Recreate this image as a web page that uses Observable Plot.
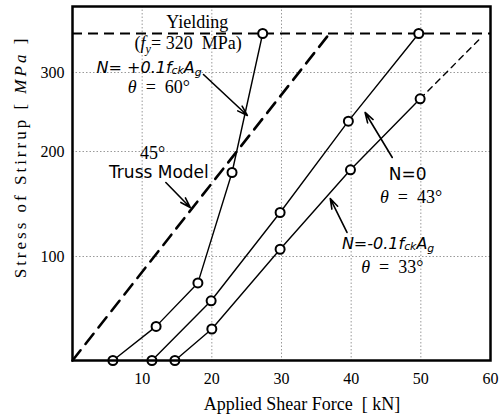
<!DOCTYPE html>
<html><head><meta charset="utf-8">
<script src="https://cdn.jsdelivr.net/npm/d3@7"></script>
<script src="https://cdn.jsdelivr.net/npm/@observablehq/plot@0.6"></script>
<style>body{margin:0;background:#fff}</style>
</head><body><div id="chart"></div>
<script>
// Series: N = +0.1 fck Ag (theta = 60)
const shearPos = [5.8, 12.0, 18.0, 22.9, 27.3];
const stressPos = [0, 32.8, 74.6, 180, 320];
// Series: N = 0 (theta = 43)
const shearZero = [11.4, 19.9, 29.8, 39.6, 49.7];
const stressZero = [0, 57.4, 141.9, 238.4, 320];
// Series: N = -0.1 fck Ag (theta = 33)
const shearNeg = [14.7, 20.0, 29.8, 39.9, 49.9];
const stressNeg = [0, 30.3, 106.9, 182.6, 266.7];
const negExtShear = [49.9, 58.4];
const negExtStress = [266.7, 317];
// 45 degree truss model
const trussShear = [0, 36.9];
const trussStress = [0, 320];
const yieldStress = [320];
// Ticks
const xTicks = [10, 20, 30, 40, 50, 60];
const xGrid = [10, 20, 30, 40, 50];
const yTicks = [100, 200, 300];
// The original figure's stress axis is not uniform: break points and their relative heights
const yBreaks = [0, 100, 200, 300, 320, 334];
const yBreakHeights = [0, 104, 209, 288, 327, 354];
// Annotation arrows (data coords)
const arrowX1 = [18.8, 13.4, 45.9, 39.4];
const arrowY1 = [297.5, 170.5, 194.3, 122.9];
const arrowX2 = [25.1, 16.9, 42.0, 37.0];
const arrowY2 = [245.6, 146.7, 249.4, 155.2];
// Annotation texts
const serifText = ["Yielding", "(fy = 320 MPa)", "45°"];
const serifX = [17.9, 16.6, 11.5];
const serifY = [322.8, 311.8, 193.3];
const sansItText = ["N= +0.1fckAg", "N=-0.1fckAg"];
const sansItX = [11.0, 45.3];
const sansItY = [299.5, 106.7];
const sansText = ["Truss Model", "N=0"];
const sansX = [12.4, 48.1];
const sansY = [175.2, 172.4];
const thetaText = ["θ = 60°", "θ = 43°", "θ = 33°"];
const thetaX = [12.4, 48.6, 45.9];
const thetaY = [273.5, 150.5, 83.7];

const f = d3.scaleLinear().domain(yBreaks).range(yBreakHeights);

const pts = (xs, ys) => xs.map((x, i) => ({x, y: ys[i]}));
const txt = (ts, xs, ys) => ts.map((t, i) => ({t, x: xs[i], y: ys[i]}));
const arrows = arrowX1.map((x1, i) => ({x1, y1: arrowY1[i], x2: arrowX2[i], y2: arrowY2[i]}));
const Y = d => f(d.y);

const SERIF = "'Liberation Serif', 'Times New Roman', serif";
const SANS = "'DejaVu Sans', sans-serif";

const series = [pts(shearPos, stressPos), pts(shearZero, stressZero), pts(shearNeg, stressNeg)];

const plot = Plot.plot({
  width: 504, height: 419,
  marginLeft: 72, marginRight: 14, marginTop: 6, marginBottom: 59,
  style: {fontFamily: SERIF, fontSize: "16px", background: "#fff", color: "#000", overflow: "visible"},
  x: {domain: [0, 60]},
  y: {domain: [0, f(yBreaks[yBreaks.length - 1])]},
  marks: [
    Plot.gridX(xGrid, {stroke: "#9a9a9a", strokeOpacity: 1, strokeDasharray: "1.5,2"}),
    Plot.gridY(yTicks.map(f), {stroke: "#9a9a9a", strokeOpacity: 1, strokeDasharray: "1.5,2"}),
    Plot.axisX({ticks: xTicks, tickSize: 0, tickPadding: 12, label: null, fontSize: 16, tickFormat: d => d}),
    Plot.axisY({ticks: yTicks.map(f), tickSize: 0, tickPadding: 8, label: null, fontSize: 16, tickFormat: d => Math.round(f.invert(d))}),
    Plot.ruleY(yieldStress.map(f), {strokeWidth: 2, strokeDasharray: "10,6"}),
    Plot.line(pts(trussShear, trussStress), {x: "x", y: Y, strokeWidth: 2.6, strokeDasharray: "13,8"}),
    Plot.line(pts(negExtShear, negExtStress), {x: "x", y: Y, strokeWidth: 1.4, strokeDasharray: "6,5"}),
    ...series.map(s => Plot.line(s, {x: "x", y: Y, strokeWidth: 1.4})),
    ...series.map(s => Plot.dot(s, {x: "x", y: Y, r: 4.5, fill: "white", stroke: "black", strokeWidth: 2})),
    Plot.arrow(arrows, {x1: "x1", y1: d => f(d.y1), x2: "x2", y2: d => f(d.y2), strokeWidth: 1.6, headLength: 10, headAngle: 35}),
    Plot.text(txt(serifText, serifX, serifY), {x: "x", y: Y, text: "t", lineAnchor: "bottom", fontSize: 18, fontFamily: SERIF}),
    Plot.text(txt(sansItText, sansItX, sansItY), {x: "x", y: Y, text: "t", lineAnchor: "bottom", fontSize: 16, fontFamily: SANS, fontStyle: "italic"}),
    Plot.text(txt(sansText, sansX, sansY), {x: "x", y: Y, text: "t", lineAnchor: "bottom", fontSize: 17, fontFamily: SANS}),
    Plot.text(txt(thetaText, thetaX, thetaY), {x: "x", y: Y, text: "t", lineAnchor: "bottom", fontSize: 18, fontFamily: SERIF}),
    Plot.frame({strokeWidth: 2.5})
  ]
});

const svg = d3.select(plot);
const sp = "\u2002";
const richParts = {
  "(fy = 320 MPa)": [{t: "("}, {t: "f", it: true}, {t: "y", it: true, sub: 4}, {t: "= 320\u00a0\u00a0MPa)"}],
  "N= +0.1fckAg": [{t: "N= +0.1f"}, {t: "ck", sub: 1}, {t: "A"}, {t: "g", sub: 3}],
  "N=-0.1fckAg": [{t: "N=-0.1f"}, {t: "ck", sub: 1}, {t: "A"}, {t: "g", sub: 3}],
  "θ = 60°": [{t: "θ", it: true}, {t: sp + "=" + sp + "60°"}],
  "θ = 43°": [{t: "θ", it: true}, {t: sp + "=" + sp + "43°"}],
  "θ = 33°": [{t: "θ", it: true}, {t: sp + "=" + sp + "33°"}]
};
function rich(el, parts) {
  const t = d3.select(el);
  t.text(null);
  let shift = 0;
  for (const p of parts) {
    const s = t.append("tspan").text(p.t);
    const target = p.sub || 0;
    if (target !== shift) { s.attr("dy", target - shift); shift = target; }
    if (p.sub) s.attr("font-size", "0.68em");
    if (p.it) s.attr("font-style", "italic");
  }
}
svg.selectAll("text").each(function () {
  const k = this.textContent;
  if (richParts[k]) rich(this, richParts[k]);
});

// Axis titles
const yl = svg.append("text")
  .attr("transform", "translate(26,157) rotate(-90)")
  .attr("text-anchor", "middle")
  .attr("font-family", SERIF).attr("font-size", 17)
  .attr("letter-spacing", "3px")
  .attr("fill", "#000");
yl.append("tspan").text("Stress of Stirrup [ ");
yl.append("tspan").attr("font-style", "italic").text("MPa");
yl.append("tspan").text(" ]");

svg.append("text")
  .attr("x", 302).attr("y", 410)
  .attr("text-anchor", "middle")
  .attr("font-family", SERIF).attr("font-size", 18)
  .attr("fill", "#000")
  .text("Applied Shear Force\u00a0\u00a0[ kN]");

document.getElementById("chart").appendChild(plot);
</script>
</body></html>
